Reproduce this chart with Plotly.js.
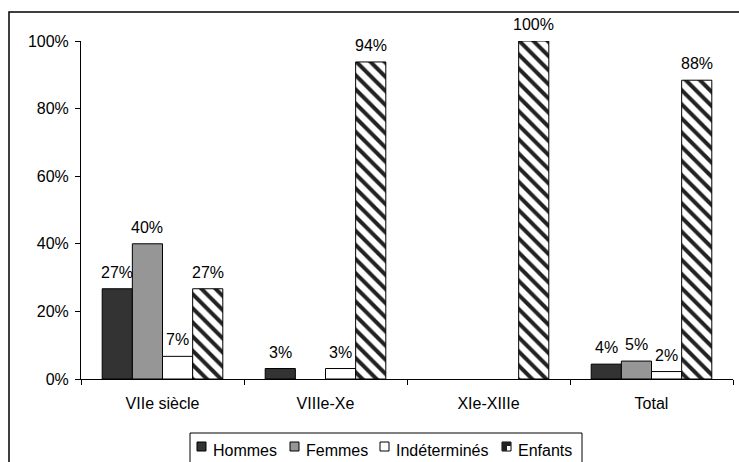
<!DOCTYPE html>
<html>
<head>
<meta charset="utf-8">
<script src="https://cdn.plot.ly/plotly-3.0.1.min.js"></script>
<style>
  html, body { margin: 0; padding: 0; background: #fff; }
  #chart { width: 739px; height: 462px; }
</style>
</head>
<body>
<div id="chart"></div>
<script>
const categories = ["VIIe siècle", "VIIIe-Xe", "XIe-XIIIe", "Total"];
const seriesNames = ["Hommes", "Femmes", "Indéterminés", "Enfants"];
const hommes = [26.7, 3.1, 0, 4.4];
const femmes = [40.0, 0, 0, 5.3];
const indetermines = [6.7, 3.1, 0, 2.2];
const enfants = [26.7, 93.8, 100, 88.4];
const yTicks = [0, 20, 40, 60, 80, 100];

const seriesValues = [hommes, femmes, indetermines, enfants];
const fills = ["#333333", "#969696", "#ffffff", "#ffffff"];

const font = { family: "Arial, 'Liberation Sans', sans-serif", size: 16, color: "#000" };
const BARGAP = 0.26;

// plot-area geometry (layout only)
const M = { l: 81, r: 6, t: 41, b: 83 };
const W = 739, H = 462;
const PW = W - M.l - M.r, PH = H - M.t - M.b;
const px2x = p => (p - M.l) / PW;
const py2y = p => (H - M.b - p) / PH;

const data = seriesValues.map((vals, j) => {
  const marker = { color: fills[j], line: { color: "#000", width: 1 } };
  if (j === 3) {
    marker.pattern = { shape: "\\", fgcolor: "#222222", bgcolor: "#ffffff", size: 10, solidity: 0.4 };
  }
  return {
    type: "bar",
    name: seriesNames[j],
    x: categories,
    y: vals.map(v => v > 0 ? v : null),
    marker: marker,
    cliponaxis: false,
    hoverinfo: "skip",
    showlegend: false
  };
});

// value labels above the bars
const barW = (1 - BARGAP) / seriesValues.length;
const annotations = [];
seriesValues.forEach((vals, j) => {
  vals.forEach((v, i) => {
    if (v > 0) {
      annotations.push({
        xref: "x", yref: "y",
        x: i + (j - (seriesValues.length - 1) / 2) * barW,
        y: v,
        text: Math.round(v) + "%",
        showarrow: false,
        yanchor: "bottom",
        yshift: 6,
        font: font
      });
    }
  });
});

// legend (drawn compactly, Excel style)
const legendItems = [
  { sx: 197, tx: 211 },
  { sx: 290, tx: 304 },
  { sx: 380, tx: 394 },
  { sx: 502, tx: 516 }
];
const shapes = [];
shapes.push({
  type: "rect", xref: "paper", yref: "paper",
  x0: px2x(190), x1: px2x(582), y0: py2y(472), y1: py2y(433),
  line: { color: "#000", width: 1 }, fillcolor: "#fff", layer: "above"
});
legendItems.forEach((it, j) => {
  const y0 = 451, y1 = 442;
  shapes.push({
    type: "rect", xref: "paper", yref: "paper",
    x0: px2x(it.sx), x1: px2x(it.sx + 9), y0: py2y(y0), y1: py2y(y1),
    line: { color: "#000", width: 1 }, fillcolor: fills[j], layer: "above"
  });
  if (j === 3) {
    // small rendering of the hatch: dark block with light lower-right corner
    const a = px2x(it.sx), b = px2x(it.sx + 9), c = px2x(it.sx + 5);
    const yt = py2y(y1), yb = py2y(y0), ym = py2y(y1 + 4);
    shapes.push({
      type: "path", xref: "paper", yref: "paper",
      path: `M ${a} ${yt} L ${b} ${yt} L ${b} ${ym} L ${c} ${ym} L ${c} ${yb} L ${a} ${yb} Z`,
      line: { width: 0 }, fillcolor: "#222222", layer: "above"
    });
  }
  annotations.push({
    xref: "paper", yref: "paper",
    x: px2x(it.tx), y: py2y(450),
    xanchor: "left", yanchor: "middle",
    text: seriesNames[j], showarrow: false, font: font
  });
});

// outer chart frame
shapes.push({
  type: "rect", xref: "paper", yref: "paper",
  x0: px2x(9), x1: px2x(760), y0: py2y(490), y1: py2y(12),
  line: { color: "#000", width: 1.5 }, fillcolor: "rgba(0,0,0,0)", layer: "above"
});

const layout = {
  width: W,
  height: H,
  margin: { l: M.l, r: M.r, t: M.t, b: M.b, autoexpand: false },
  paper_bgcolor: "#fff",
  plot_bgcolor: "#fff",
  font: font,
  barmode: "group",
  bargap: BARGAP,
  bargroupgap: 0,
  showlegend: false,
  xaxis: {
    type: "category",
    showline: true,
    linecolor: "#000",
    linewidth: 1,
    ticks: "outside",
    tickson: "boundaries",
    ticklen: 5,
    tickcolor: "#000",
    ticklabelstandoff: 10,
    showgrid: false,
    zeroline: false,
    tickfont: font
  },
  yaxis: {
    range: [0, 100],
    tickvals: yTicks,
    ticktext: yTicks.map(v => v + "%"),
    showline: true,
    linecolor: "#000",
    linewidth: 1,
    ticks: "outside",
    ticklen: 5,
    tickcolor: "#000",
    ticklabelstandoff: 3,
    showgrid: false,
    zeroline: false,
    tickfont: font
  },
  annotations: annotations,
  shapes: shapes
};

Plotly.newPlot("chart", data, layout, { staticPlot: true, displayModeBar: false });
</script>
</body>
</html>
